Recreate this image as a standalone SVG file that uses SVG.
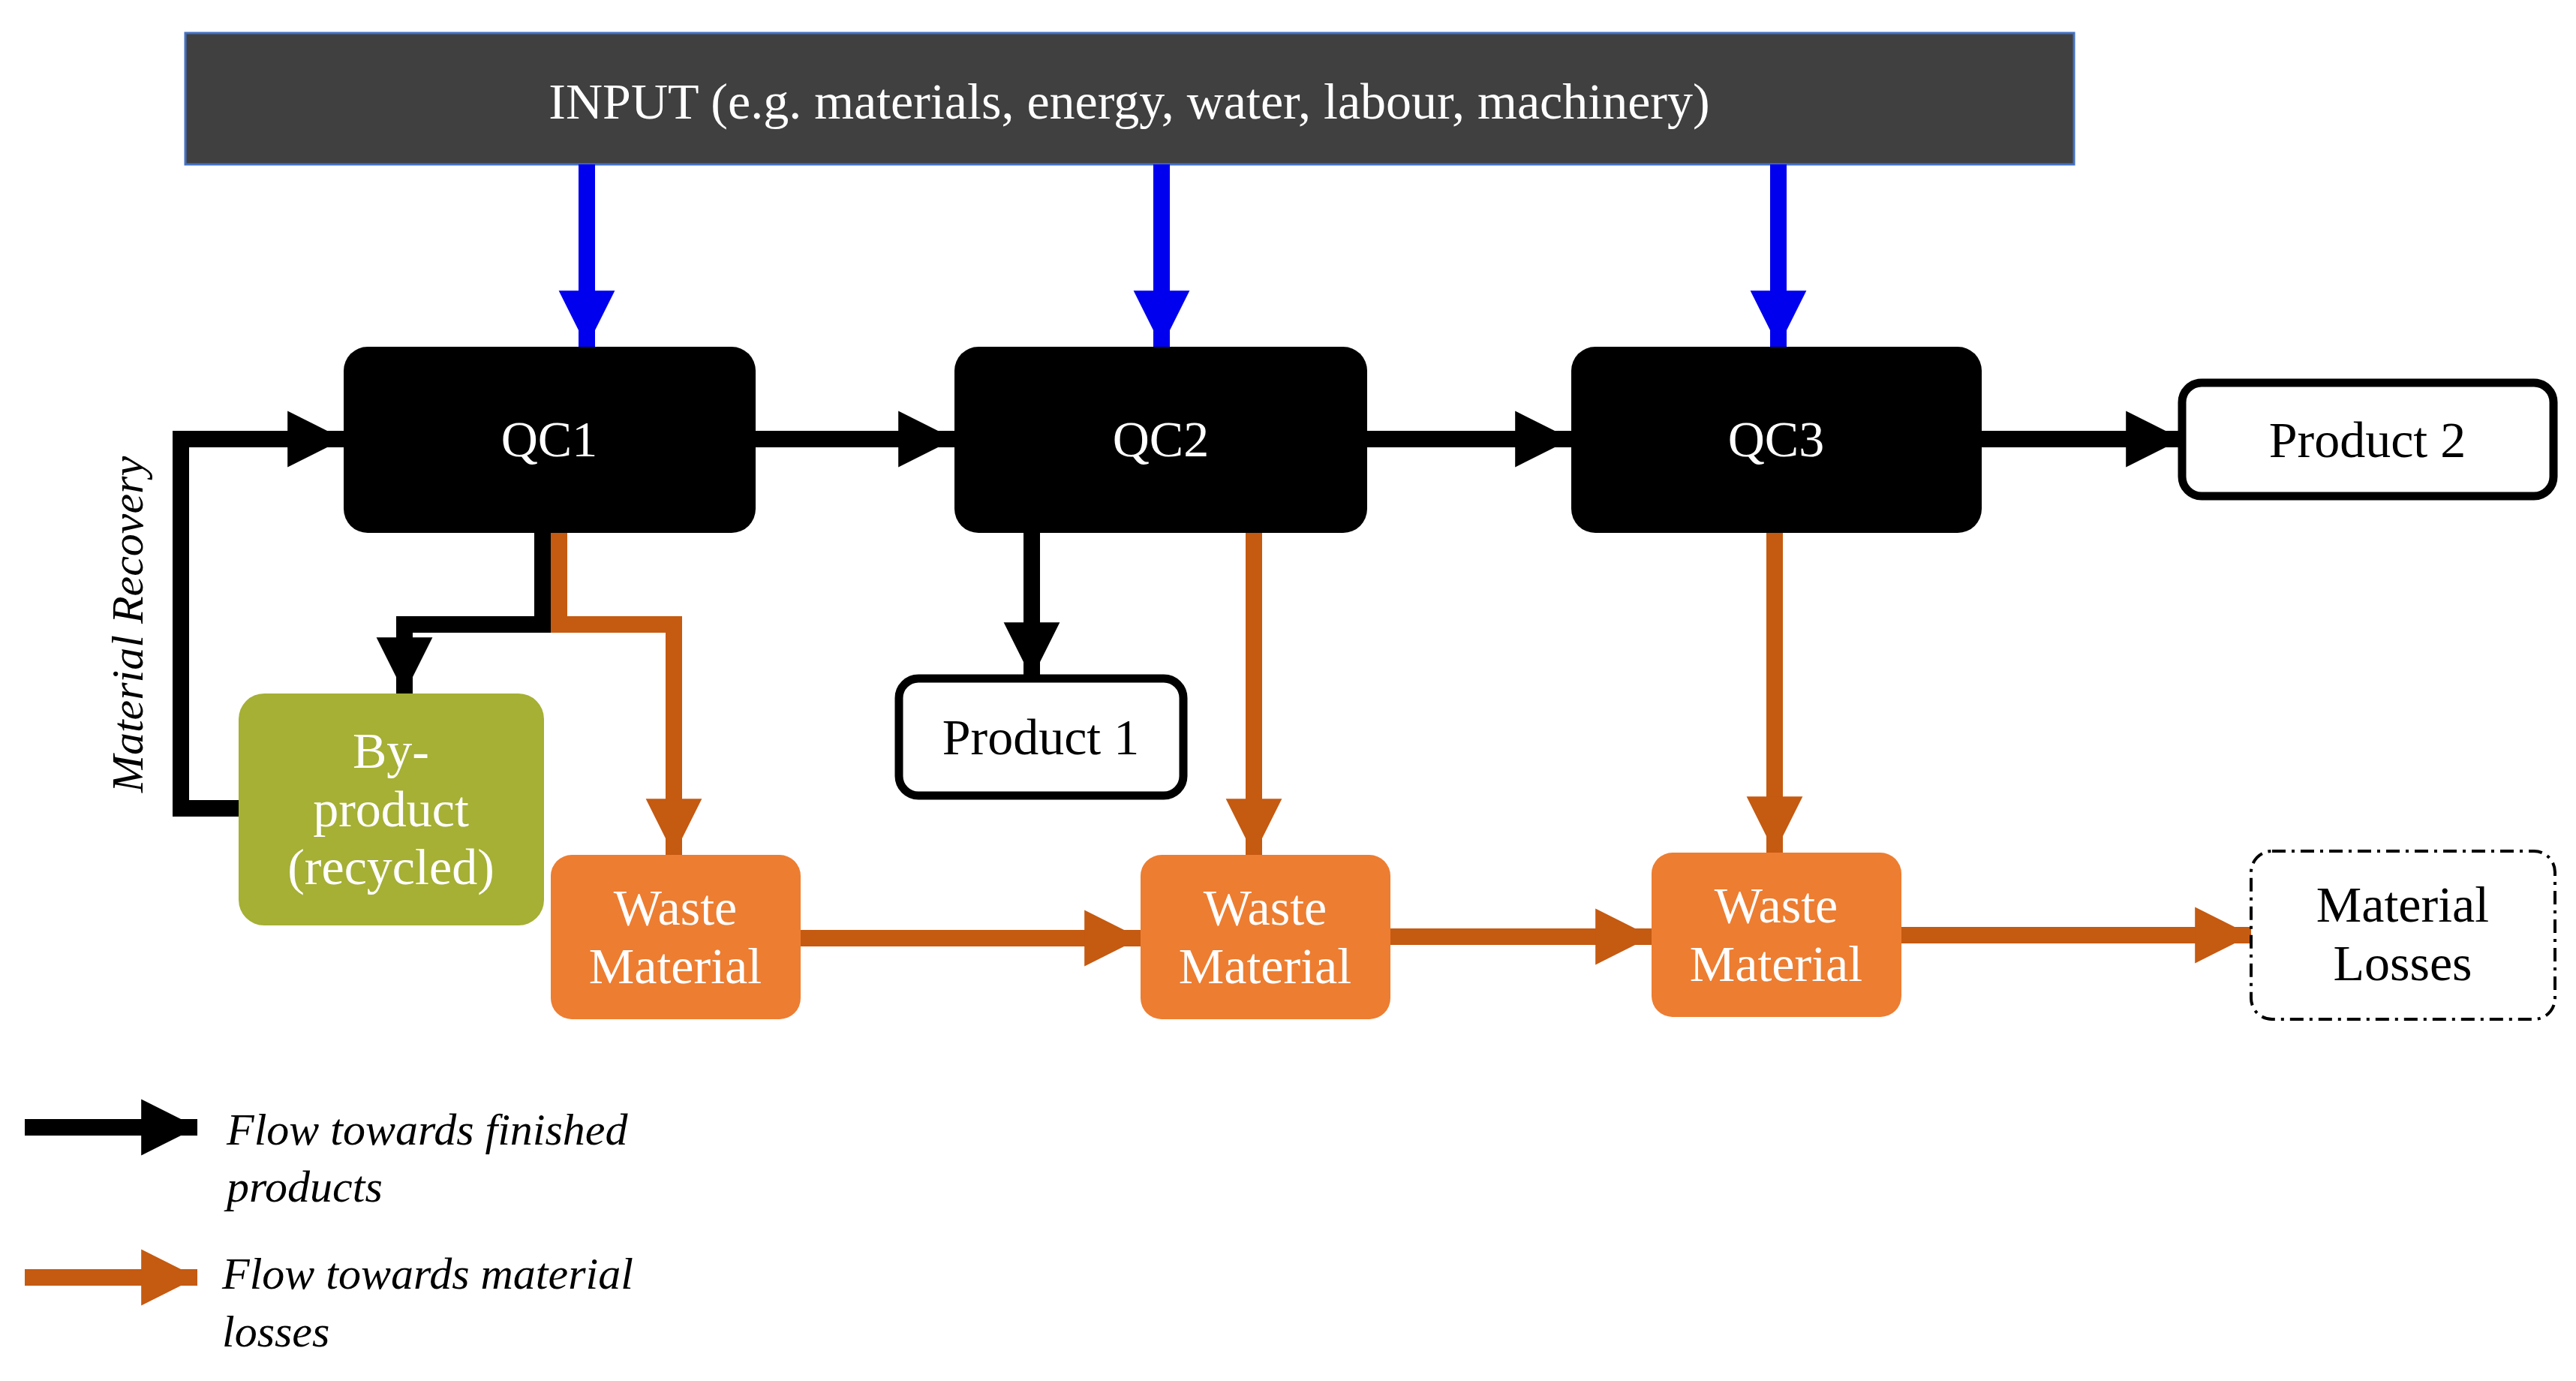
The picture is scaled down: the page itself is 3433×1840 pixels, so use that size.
<svg xmlns="http://www.w3.org/2000/svg" width="3433" height="1840" viewBox="0 0 3433 1840">
<defs>
<style>
.t{font-family:"Liberation Serif",serif;font-size:68px;text-anchor:middle}
.w{fill:#fff}
.k{fill:#000}
.i{font-family:"Liberation Serif",serif;font-style:italic;font-size:60px}
.bl{stroke:#0000EE;stroke-width:22;fill:none}
.bk{stroke:#000;stroke-width:22;fill:none}
.or{stroke:#C55A11;stroke-width:22;fill:none}
.qc{fill:#000}
.ws{fill:#ED7D31}
</style>
<marker id="hb" viewBox="0 0 10 10" refX="10" refY="5" markerWidth="3.4" markerHeight="3.6" markerUnits="strokeWidth" orient="auto"><path d="M0,0L10,5L0,10z" fill="#0000EE"/></marker>
<marker id="hk" viewBox="0 0 10 10" refX="10" refY="5" markerWidth="3.4" markerHeight="3.6" markerUnits="strokeWidth" orient="auto"><path d="M0,0L10,5L0,10z" fill="#000"/></marker>
<marker id="ho" viewBox="0 0 10 10" refX="10" refY="5" markerWidth="3.4" markerHeight="3.6" markerUnits="strokeWidth" orient="auto"><path d="M0,0L10,5L0,10z" fill="#C55A11"/></marker>
</defs>
<rect width="3433" height="1840" fill="#fff"/>
<g id="input"><rect x="247" y="44" width="2517" height="175" fill="#404040" stroke="#4472C4" stroke-width="3"/><text class="t w" x="1505" y="158">INPUT (e.g. materials, energy, water, labour, machinery)</text></g>
<g id="connectors">
<path class="bl" d="M782,219V462" marker-end="url(#hb)"/>
<path class="bl" d="M1548,219V462" marker-end="url(#hb)"/>
<path class="bl" d="M2370,219V462" marker-end="url(#hb)"/>
<path class="bk" d="M1007,585H1272" marker-end="url(#hk)"/>
<path class="bk" d="M1822,585H2094" marker-end="url(#hk)"/>
<path class="bk" d="M2641,585H2908" marker-end="url(#hk)"/>
<path class="bk" d="M1375,710V904" marker-end="url(#hk)"/>
<path class="bk" d="M723,710V832H539V924" marker-end="url(#hk)"/>
<path class="bk" d="M318,1077H241V585H458" marker-end="url(#hk)"/>
<path class="or" d="M745,710V832H898V1139" marker-end="url(#ho)"/>
<path class="or" d="M1671,710V1139" marker-end="url(#ho)"/>
<path class="or" d="M2365,710V1136" marker-end="url(#ho)"/>
<path class="or" d="M1067,1250H1520" marker-end="url(#ho)"/>
<path class="or" d="M1853,1248H2201" marker-end="url(#ho)"/>
<path class="or" d="M2534,1246H3000" marker-end="url(#ho)"/>
</g>
<g id="qc1"><rect class="qc" x="458" y="462" width="549" height="248" rx="32"/><text class="t w" x="732" y="608">QC1</text></g>
<g id="qc2"><rect class="qc" x="1272" y="462" width="550" height="248" rx="32"/><text class="t w" x="1547" y="608">QC2</text></g>
<g id="qc3"><rect class="qc" x="2094" y="462" width="547" height="248" rx="32"/><text class="t w" x="2367" y="608">QC3</text></g>
<g id="product2"><rect x="2908" y="510" width="495" height="151" rx="26" fill="#fff" stroke="#000" stroke-width="11"/><text class="t k" x="3155" y="609">Product 2</text></g>
<g id="product1"><rect x="1198" y="904" width="379" height="156" rx="26" fill="#fff" stroke="#000" stroke-width="11"/><text class="t k" x="1387" y="1005">Product 1</text></g>
<g id="byproduct"><rect x="318" y="924" width="407" height="309" rx="34" fill="#A5B034"/><text class="t w" x="521" y="1023">By-</text><text class="t w" x="521" y="1101">product</text><text class="t w" x="521" y="1178">(recycled)</text></g>
<g id="waste1"><rect class="ws" x="734" y="1139" width="333" height="219" rx="28"/><text class="t w" x="900" y="1232">Waste</text><text class="t w" x="900" y="1310">Material</text></g>
<g id="waste2"><rect class="ws" x="1520" y="1139" width="333" height="219" rx="28"/><text class="t w" x="1686" y="1232">Waste</text><text class="t w" x="1686" y="1310">Material</text></g>
<g id="waste3"><rect class="ws" x="2201" y="1136" width="333" height="219" rx="28"/><text class="t w" x="2367" y="1229">Waste</text><text class="t w" x="2367" y="1307">Material</text></g>
<g id="losses"><rect x="3000" y="1134" width="405" height="224" rx="28" fill="#fff" stroke="#000" stroke-width="4" stroke-dasharray="18,8,4,8"/><text class="t k" x="3202" y="1228">Material</text><text class="t k" x="3202" y="1306">Losses</text></g>
<g id="recovery-label"><text class="i" transform="translate(190,832) rotate(-90)" text-anchor="middle">Material Recovery</text></g>
<g id="legend">
<path class="bk" d="M33,1502H263" marker-end="url(#hk)"/>
<text class="i" x="302" y="1525">Flow towards finished</text><text class="i" x="302" y="1601">products</text>
<path class="or" d="M33,1702H263" marker-end="url(#ho)"/>
<text class="i" x="296" y="1717">Flow towards material</text><text class="i" x="296" y="1794">losses</text>
</g>
</svg>
